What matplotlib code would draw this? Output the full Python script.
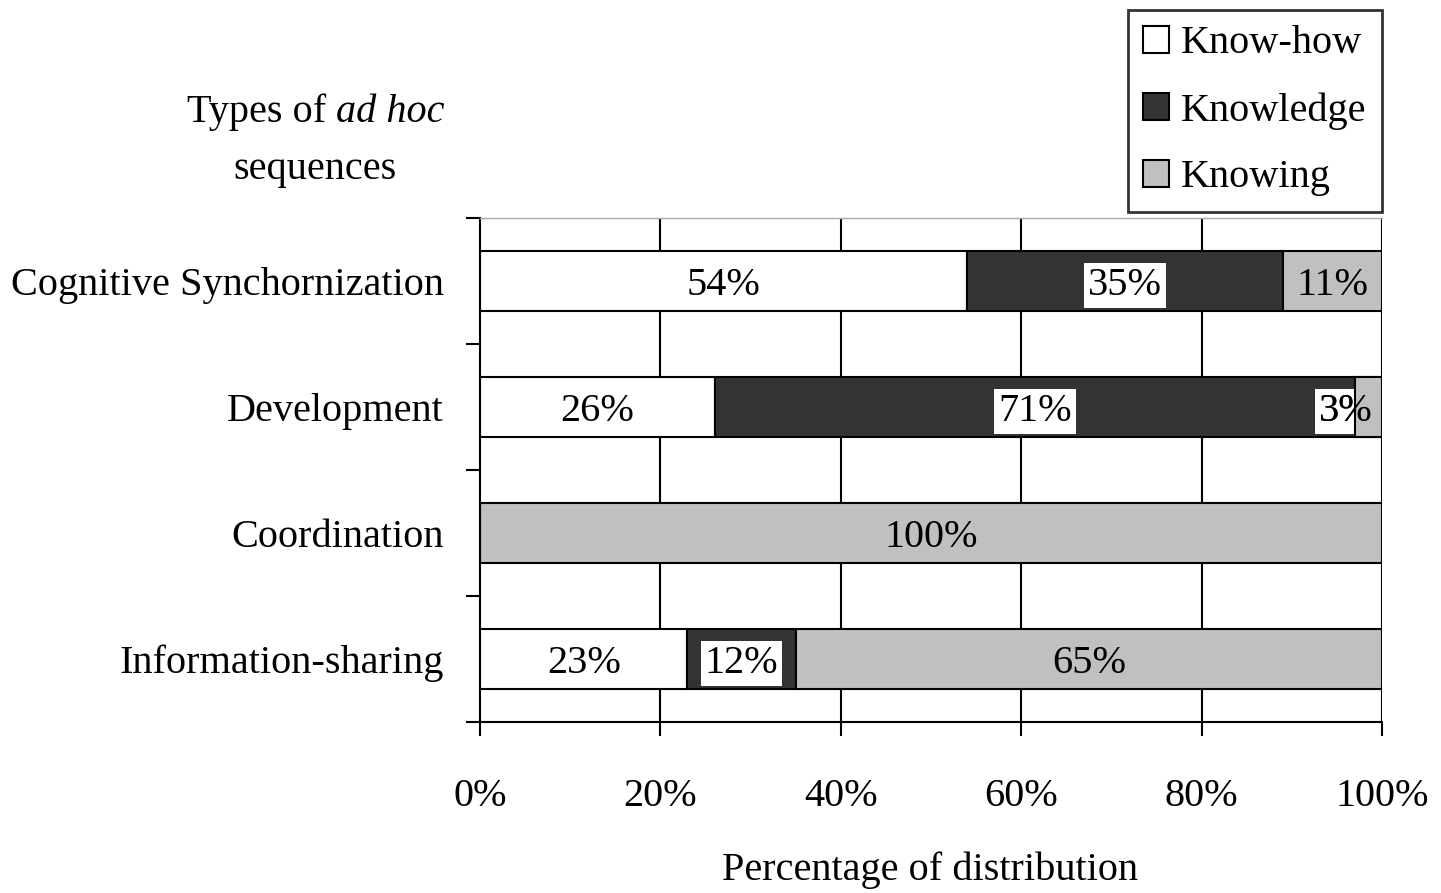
import matplotlib
matplotlib.use("Agg")
import matplotlib.pyplot as plt
import numpy as np

categories = ["Cognitive Synchornization", "Development", "Coordination", "Information-sharing"]
series_names = ["Know-how", "Knowledge", "Knowing"]
know_how = [54, 26, 0, 23]
knowledge = [35, 71, 0, 12]
knowing = [11, 3, 100, 65]
xtick_values = [0, 20, 40, 60, 80, 100]
xtick_labels = ["0%", "20%", "40%", "60%", "80%", "100%"]

colors = ["#ffffff", "#333333", "#c0c0c0"]
FS = 29
plt.rcParams["font.family"] = ["Liberation Serif", "DejaVu Serif"]

W, H = 1441, 893
fig = plt.figure(figsize=(W / 100, H / 100), dpi=100)
ax = fig.add_axes([480 / W, 1 - 722 / H, (1382 - 480) / W, (722 - 218) / H])

y = np.arange(len(categories))
data = [know_how, knowledge, knowing]
left = np.zeros(len(categories))
bars = []
for vals, col, name in zip(data, colors, series_names):
    b = ax.barh(y, vals, left=left, height=0.48, color=col, edgecolor="black",
                linewidth=1.5, label=name, zorder=2)
    bars.append(b)
    left = left + np.array(vals)

ax.set_xlim(0, 100)
ax.set_ylim(len(categories) - 0.5, -0.5)

# gridlines
for xv in xtick_values[1:]:
    ax.axvline(xv, color="black", linewidth=1.5, zorder=1)

ax.set_xticks(xtick_values)
ax.set_xticklabels(xtick_labels, fontsize=FS)
ax.set_yticks(y)
ax.set_yticklabels(categories, fontsize=FS)
ax.set_yticks(np.arange(len(categories) + 1) - 0.5, minor=True)
ax.tick_params(axis="y", which="major", length=0, pad=26)
ax.tick_params(axis="y", which="minor", length=10, width=1.5, direction="out")
ax.tick_params(axis="x", which="major", length=10, width=1.5, direction="out", pad=30)
for s in ["left", "bottom"]:
    ax.spines[s].set_linewidth(1.5)
ax.spines["right"].set_visible(False)
ax.spines["top"].set_color("#aaaaaa")
ax.spines["top"].set_linewidth(1)

# value labels
left = np.zeros(len(categories))
for si, vals in enumerate(data):
    for i, v in enumerate(vals):
        if v > 0:
            cx = left[i] + v / 2
            boxed = si == 1
            kw = dict(ha="center", va="center_baseline", fontsize=FS, color="black")
            if si == 2 and v < 5:
                cx = left[i] - 1.0
                ax.text(cx, i, f"{v}%", zorder=3,
                        bbox=dict(boxstyle="square,pad=0.1", fc="white", ec="none"), **kw)
                ax.barh(i, v, left=left[i], height=0.48, color=colors[2],
                        edgecolor="black", linewidth=1.5, zorder=4)
                ax.text(cx, i, f"{v}%", zorder=5, **kw)
            elif boxed:
                ax.text(cx, i, f"{v}%", zorder=5,
                        bbox=dict(boxstyle="square,pad=0.1", fc="white", ec="none"), **kw)
            else:
                ax.text(cx, i, f"{v}%", zorder=5, **kw)
        left[i] += v

# legend
leg = fig.legend(handles=bars, labels=series_names, loc="upper right",
                 bbox_to_anchor=(1382 / W, 1 - 10 / H), fontsize=FS,
                 frameon=True, fancybox=False, edgecolor="black",
                 handlelength=0.65, handleheight=0.65, handletextpad=0.3,
                 labelspacing=0.74, borderpad=0.38, borderaxespad=0)
leg.get_frame().set_linewidth(2)

# axis title (top-left)
fig.canvas.draw()
r = fig.canvas.get_renderer()
t_it = fig.text(445 / W, 1 - 112 / H, "ad hoc", ha="right", va="center",
                fontsize=FS, style="italic")
bb = t_it.get_window_extent(renderer=r)
fig.text(bb.x0 / W, 1 - 112 / H, "Types of ", ha="right", va="center", fontsize=FS)
fig.text(315 / W, 1 - 170 / H, "sequences", ha="center", va="center", fontsize=FS)

fig.text(930 / W, 1 - 870 / H, "Percentage of distribution", ha="center",
         va="center", fontsize=FS)

fig.savefig("out.png", dpi=100, facecolor="white")
